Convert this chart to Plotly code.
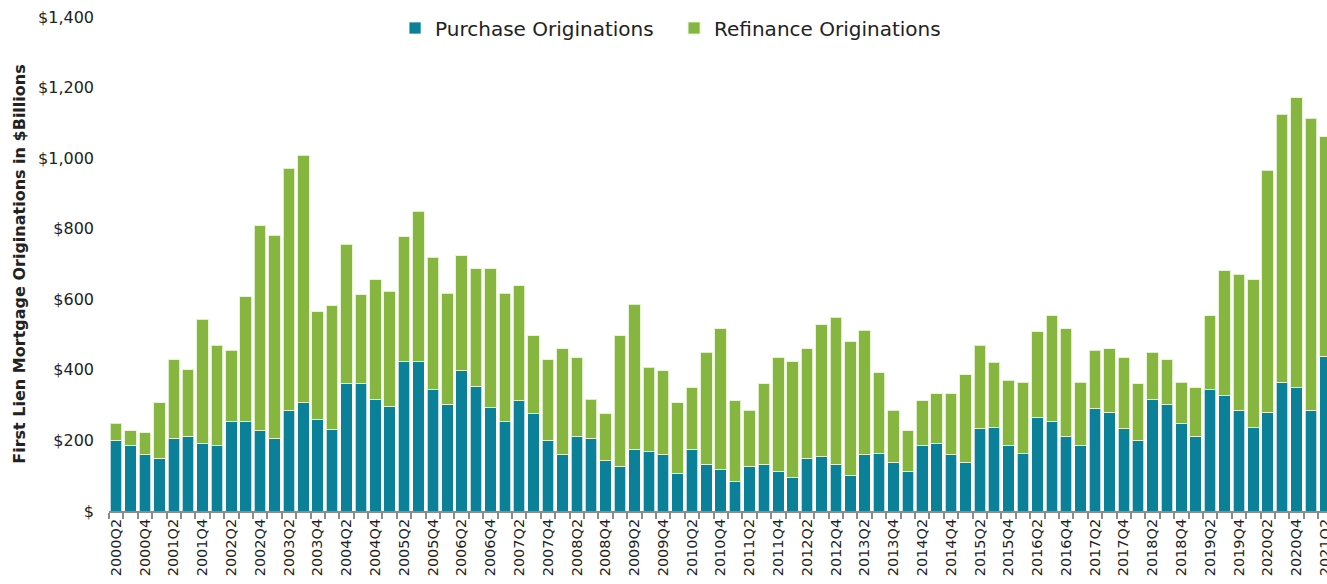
import plotly.graph_objects as go

quarters = [
    "2000Q2", "2000Q3", "2000Q4", "2001Q1", "2001Q2", "2001Q3", "2001Q4",
    "2002Q1", "2002Q2", "2002Q3", "2002Q4", "2003Q1", "2003Q2", "2003Q3", "2003Q4",
    "2004Q1", "2004Q2", "2004Q3", "2004Q4", "2005Q1", "2005Q2", "2005Q3", "2005Q4",
    "2006Q1", "2006Q2", "2006Q3", "2006Q4", "2007Q1", "2007Q2", "2007Q3", "2007Q4",
    "2008Q1", "2008Q2", "2008Q3", "2008Q4", "2009Q1", "2009Q2", "2009Q3", "2009Q4",
    "2010Q1", "2010Q2", "2010Q3", "2010Q4", "2011Q1", "2011Q2", "2011Q3", "2011Q4",
    "2012Q1", "2012Q2", "2012Q3", "2012Q4", "2013Q1", "2013Q2", "2013Q3", "2013Q4",
    "2014Q1", "2014Q2", "2014Q3", "2014Q4", "2015Q1", "2015Q2", "2015Q3", "2015Q4",
    "2016Q1", "2016Q2", "2016Q3", "2016Q4", "2017Q1", "2017Q2", "2017Q3", "2017Q4",
    "2018Q1", "2018Q2", "2018Q3", "2018Q4", "2019Q1", "2019Q2", "2019Q3", "2019Q4",
    "2020Q1", "2020Q2", "2020Q3", "2020Q4", "2021Q1", "2021Q2",
]

# Totals (purchase + refinance), $ billions
totals = [
    249, 228, 222, 307, 429, 401, 544,
    470, 455, 607, 808, 782, 971, 1008, 565,
    581, 756, 613, 655, 623, 777, 850, 719,
    617, 723, 687, 687, 617, 639, 497, 429,
    460, 434, 317, 275, 497, 586, 407, 397,
    307, 349, 450, 517, 312, 286, 360, 434,
    423, 460, 528, 549, 480, 512, 392, 286,
    228, 312, 333, 333, 386, 470, 421, 370,
    365, 508, 554, 517, 365, 455, 460, 434,
    360, 450, 429, 365, 349, 554, 681, 671,
    655, 966, 1124, 1171, 1113, 1060,
]

purchase = [
    201, 186, 159, 149, 206, 212, 192,
    186, 255, 255, 228, 206, 286, 307, 259,
    232, 360, 360, 317, 297, 423, 423, 344,
    302, 397, 354, 292, 255, 312, 275, 201,
    159, 212, 206, 143, 127, 175, 169, 159,
    107, 175, 132, 117, 85, 127, 132, 112,
    96, 149, 154, 132, 102, 159, 164, 138,
    112, 186, 192, 159, 138, 233, 238, 186,
    164, 265, 254, 212, 186, 291, 280, 233,
    201, 317, 302, 249, 212, 344, 328, 286,
    238, 280, 365, 349, 286, 439,
]

refinance = [t - p for t, p in zip(totals, purchase)]

ytick_vals = [0, 200, 400, 600, 800, 1000, 1200, 1400]
ytick_text = ["$", "$200", "$400", "$600", "$800", "$1,000", "$1,200", "$1,400"]

teal = "#0A8199"
green = "#86B540"
FONT = "DejaVu Sans, Liberation Sans, Arial, sans-serif"

x_idx = list(range(len(quarters)))

fig = go.Figure()
fig.add_trace(go.Bar(
    x=x_idx, y=purchase, name="Purchase Originations",
    marker=dict(color=teal, line=dict(color="rgba(255,255,255,0.7)", width=1)),
))
fig.add_trace(go.Bar(
    x=x_idx, y=refinance, name="Refinance Originations",
    marker=dict(color=green, line=dict(color="rgba(230,245,210,0.9)", width=1)),
))

label_idx = x_idx[::2]
label_txt = quarters[::2]

fig.update_layout(
    barmode="stack",
    bargap=0.2,
    width=1327, height=584,
    margin=dict(l=109, r=0, t=17, b=73, autoexpand=False),
    paper_bgcolor="white", plot_bgcolor="white",
    font=dict(family=FONT, color="#222"),
    showlegend=True,
    legend=dict(
        orientation="h", xref="container", x=0.2977, xanchor="left",
        yref="container", y=1 - 28 / 584, yanchor="middle",
        font=dict(size=20, color="#222", family=FONT), bgcolor="rgba(0,0,0,0)",
        itemwidth=30, traceorder="normal",
        entrywidth=234, entrywidthmode="pixels",
    ),
    xaxis=dict(
        range=[-0.5, 84.12], automargin=False, ticklabeloverflow="allow",
        tickmode="array", tickvals=label_idx, ticktext=label_txt,
        tickangle=-90, tickfont=dict(size=14.5, color="#222", family=FONT),
        ticks="", showgrid=False, zeroline=False,
        showline=True, linecolor="#8c8c8c", linewidth=2,
        minor=dict(ticks="outside", tick0=0.5, dtick=1, ticklen=6,
                   tickcolor="#8c8c8c", tickwidth=2, showgrid=False),
    ),
    yaxis=dict(
        range=[0, 1400], automargin=False, ticklabeloverflow="allow",
        tickmode="array", tickvals=ytick_vals, ticktext=ytick_text,
        tickfont=dict(size=16, color="#222", family=FONT),
        ticks="", showgrid=False, zeroline=False, showline=False,
        ticklabelstandoff=14,
        title=dict(text="<b>First Lien Mortgage Originations in $Billions</b>",
                   font=dict(size=16, color="#222", family=FONT), standoff=8),
    ),
)

fig.write_html(
    "out.html",
    config={"displayModeBar": False},
    post_script="document.body.style.margin='0px';document.body.style.overflow='hidden';",
)
